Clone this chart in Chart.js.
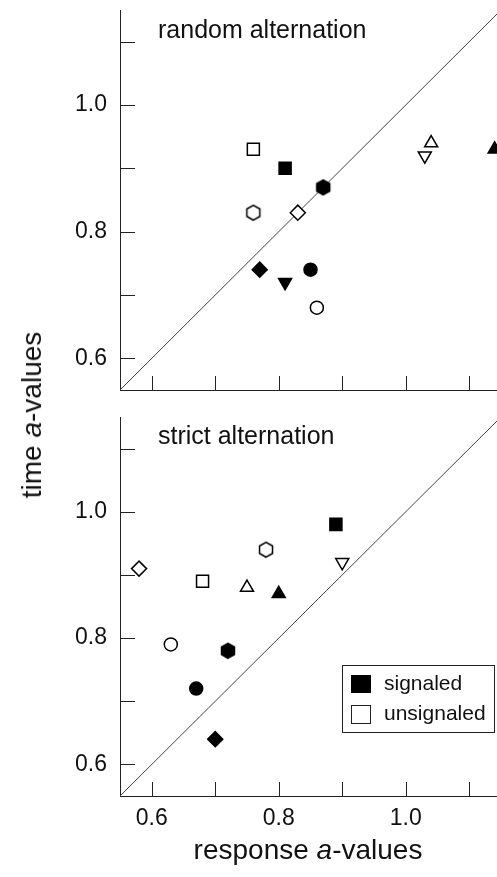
<!DOCTYPE html>
<html>
<head>
<meta charset="utf-8">
<script src="https://cdn.jsdelivr.net/npm/chart.js@4.4.1/dist/chart.umd.min.js"></script>
<style>
html, body { margin: 0; padding: 0; background: #fff; overflow: hidden; }
#wrap { position: relative; width: 497px; height: 877px; overflow: hidden; font-family: 'Liberation Sans', Arial, sans-serif; color: #111; }
canvas { position: absolute; left: 0; }
#topChart { top: 0; }
#bottomChart { top: 407px; }
.ytitle { position: absolute; left: 32px; top: 415px; transform: translate(-50%, -50%) rotate(-90deg); font-size: 28px; white-space: nowrap; line-height: 1; }
.xtitle { position: absolute; left: 308px; top: 850px; transform: translate(-50%, -50%); font-size: 28px; white-space: nowrap; line-height: 1; }
</style>
</head>
<body>
<div id="wrap">
  <canvas id="topChart" width="511" height="400"></canvas>
  <canvas id="bottomChart" width="511" height="470"></canvas>
  <div class="ytitle">time <i>a</i>-values</div>
  <div class="xtitle">response <i>a</i>-values</div>
</div>
<script>
// axes
const axisMin = 0.55, axisMax = 1.15;
const tickValues = [0.6, 0.7, 0.8, 0.9, 1.0, 1.1];
const labeledTicks = [0.6, 0.8, 1.0];
const diagonal = [0.55, 1.15];

// one marker per subject (filled = signaled, open = unsignaled)
const markerShape = ['rect', 'rect', 'hexagon', 'hexagon', 'rectRot', 'rectRot', 'circle', 'circle', 'triangle', 'triangle', 'triangleDown', 'triangleDown'];
const markerFilled = [true, false, true, false, true, false, true, false, true, false, true, false];

// random alternation
const randomX = [0.81, 0.76, 0.87, 0.76, 0.77, 0.83, 0.85, 0.86, 1.14, 1.04, 0.81, 1.03];
const randomY = [0.90, 0.93, 0.87, 0.83, 0.74, 0.83, 0.74, 0.68, 0.93, 0.94, 0.72, 0.92];

// strict alternation (no filled down triangle)
const strictX = [0.89, 0.68, 0.72, 0.78, 0.70, 0.58, 0.67, 0.63, 0.80, 0.75, null, 0.90];
const strictY = [0.98, 0.89, 0.78, 0.94, 0.64, 0.91, 0.72, 0.79, 0.87, 0.88, null, 0.92];

const legendLabels = ['signaled', 'unsignaled'];

Chart.defaults.font.family = "'Liberation Sans', Arial, sans-serif";
Chart.defaults.color = '#111';

// hexagon marker as image
function hexImage(filled) {
    const c = document.createElement('canvas');
    c.width = 18; c.height = 18;
    const g = c.getContext('2d');
    const r = 7.5;
    g.beginPath();
    for (let i = 0; i < 6; i++) {
        const a = Math.PI / 2 + i * Math.PI / 3;
        const px = 9 + r * Math.cos(a), py = 9 + r * Math.sin(a);
        if (i) g.lineTo(px, py); else g.moveTo(px, py);
    }
    g.closePath();
    g.fillStyle = filled ? '#000' : '#fff';
    g.fill();
    g.lineWidth = 1.5;
    g.strokeStyle = '#000';
    g.stroke();
    return c;
}
const hexFilled = hexImage(true);
const hexOpen = hexImage(false);

const radiusFor = { rect: 8.5, circle: 6.5, rectRot: 7.5, triangle: 7.5, triangleDown: 7.5, hexagon: 7.5 };

function styleFor(i) {
    const s = markerShape[i];
    if (s === 'hexagon') return markerFilled[i] ? hexFilled : hexOpen;
    if (s === 'triangleDown') return 'triangle';
    return s;
}

function labelFor(v) {
    return labeledTicks.some(t => Math.abs(t - v) < 1e-9) ? v.toFixed(1) : '';
}

// no extra room for edge labels, the plot area is set by hand
function noPadding(s) {
    s.paddingTop = 0; s.paddingBottom = 0; s.paddingLeft = 0; s.paddingRight = 0;
}

// ticks drawn inward from the axis lines
const innerTicks = {
    id: 'innerTicks',
    afterDraw(chart) {
        const ctx = chart.ctx, area = chart.chartArea;
        const xs = chart.scales.x, ys = chart.scales.y;
        ctx.save();
        ctx.strokeStyle = '#222';
        ctx.lineWidth = 1;
        ctx.beginPath();
        tickValues.forEach(v => {
            const px = Math.round(xs.getPixelForValue(v)) + 0.5;
            ctx.moveTo(px, area.bottom);
            ctx.lineTo(px, area.bottom - 14);
            const py = Math.round(ys.getPixelForValue(v)) + 0.5;
            ctx.moveTo(area.left, py);
            ctx.lineTo(area.left + 15, py);
        });
        ctx.stroke();
        ctx.restore();
    }
};

const panelLabel = {
    id: 'panelLabel',
    afterDraw(chart, args, opts) {
        const ctx = chart.ctx, area = chart.chartArea;
        ctx.save();
        ctx.fillStyle = '#111';
        ctx.font = "25px 'Liberation Sans', Arial, sans-serif";
        ctx.textBaseline = 'alphabetic';
        ctx.fillText(opts.text, area.left + 38, area.top + opts.dy);
        ctx.restore();
    }
};

const signalLegend = {
    id: 'signalLegend',
    afterDraw(chart, args, opts) {
        if (!opts.display) return;
        const ctx = chart.ctx;
        const bx = 342, by = 258, bw = 152, bh = 67;
        ctx.save();
        ctx.fillStyle = '#fff';
        ctx.fillRect(bx, by, bw, bh);
        ctx.strokeStyle = '#222';
        ctx.lineWidth = 1;
        ctx.strokeRect(bx + 0.5, by + 0.5, bw, bh);
        ctx.font = "21px 'Liberation Sans', Arial, sans-serif";
        ctx.textBaseline = 'middle';
        legendLabels.forEach((lab, i) => {
            const y = by + 10 + i * 30;
            if (i === 0) {
                ctx.fillStyle = '#000';
                ctx.fillRect(bx + 9, y, 20, 18);
            } else {
                ctx.strokeStyle = '#222';
                ctx.strokeRect(bx + 9.5, y + 0.5, 19, 18);
            }
            ctx.fillStyle = '#111';
            ctx.fillText(lab, bx + 42, y + 9);
        });
        ctx.restore();
    }
};

function makePanel(canvasId, xs, ys, label, opts) {
    const idx = xs.map((x, i) => i).filter(i => xs[i] !== null);
    const ctx = document.getElementById(canvasId).getContext('2d');
    return new Chart(ctx, {
        type: 'scatter',
        data: {
            datasets: [
                {
                    data: idx.map(i => ({ x: xs[i], y: ys[i] })),
                    pointStyle: idx.map(styleFor),
                    pointRadius: idx.map(i => radiusFor[markerShape[i]]),
                    pointRotation: idx.map(i => markerShape[i] === 'triangleDown' ? 180 : 0),
                    pointBackgroundColor: idx.map(i => markerFilled[i] ? '#000' : '#fff'),
                    pointBorderColor: '#000',
                    pointBorderWidth: 1.5,
                    clip: false
                },
                {
                    type: 'line',
                    data: [{ x: diagonal[0], y: diagonal[0] }, { x: diagonal[1], y: diagonal[1] }],
                    borderColor: '#444',
                    borderWidth: 1,
                    pointRadius: 0,
                    fill: false
                }
            ]
        },
        options: {
            responsive: false,
            animation: false,
            layout: { padding: { top: 10, right: 0, left: 0, bottom: 0 } },
            plugins: {
                legend: { display: false },
                tooltip: { enabled: false },
                panelLabel: { text: label, dy: opts.labelDy },
                signalLegend: { display: opts.legend }
            },
            scales: {
                x: {
                    type: 'linear',
                    min: axisMin,
                    max: axisMax,
                    grid: { display: false, drawTicks: false },
                    border: { display: true, color: '#222' },
                    afterBuildTicks: s => { s.ticks = tickValues.map(v => ({ value: v })); },
                    afterFit: s => { s.height = opts.xHeight; noPadding(s); },
                    ticks: { display: opts.xLabels, padding: 9, color: '#111', font: { size: 23 }, maxRotation: 0, autoSkip: false, callback: v => labelFor(v) }
                },
                y: {
                    type: 'linear',
                    min: axisMin,
                    max: axisMax,
                    grid: { display: false, drawTicks: false },
                    border: { display: true, color: '#222' },
                    afterBuildTicks: s => { s.ticks = tickValues.map(v => ({ value: v })); },
                    afterFit: s => { s.width = 120; noPadding(s); },
                    ticks: { padding: 13, color: '#111', font: { size: 23 }, autoSkip: false, callback: v => labelFor(v) }
                }
            }
        },
        plugins: [innerTicks, panelLabel, signalLegend]
    });
}

makePanel('topChart', randomX, randomY, 'random alternation', { xHeight: 10, xLabels: false, legend: false, labelDy: 28 });
makePanel('bottomChart', strictX, strictY, 'strict alternation', { xHeight: 81, xLabels: true, legend: true, labelDy: 27 });
</script>
</body>
</html>
